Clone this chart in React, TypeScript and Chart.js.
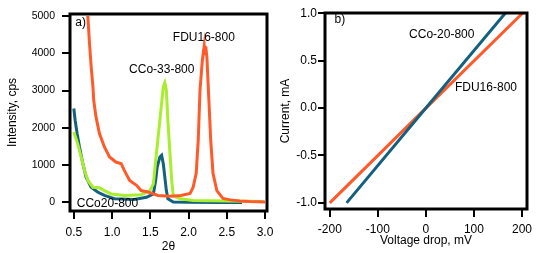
import React, { useEffect, useRef } from 'react';
import { Chart, registerables } from 'chart.js';
Chart.register(...registerables);

const FONT = 'Liberation Sans';
const ORANGE = '#FF5A2A';
const BLUE = '#14607F';
const GREEN = '#A9EE2C';

// ---------- panel a) : intensity vs 2θ ----------
const fduTheta = [0.683, 0.705, 0.727, 0.75, 0.76, 0.79, 0.835, 0.9, 0.967, 1.05, 1.09, 1.12, 1.16, 1.23, 1.32, 1.38, 1.47, 1.6, 1.75, 1.9, 2.02, 2.06, 2.1, 2.127, 2.15, 2.18, 2.205, 2.215, 2.225, 2.24, 2.26, 2.29, 2.32, 2.37, 2.45, 2.55, 2.67, 2.8, 3.0];
const fduInt = [5000, 4270, 3640, 3100, 2745, 2295, 1850, 1490, 1220, 1085, 1060, 1040, 860, 590, 460, 320, 280, 190, 170, 190, 240, 410, 780, 1670, 3010, 3800, 4200, 3950, 4180, 3900, 3010, 1670, 780, 320, 110, 70, 40, 25, 15];

const cco33Theta = [0.5, 0.55, 0.596, 0.64, 0.683, 0.75, 0.835, 0.9, 0.99, 1.16, 1.38, 1.495, 1.54, 1.58, 1.625, 1.67, 1.69, 1.71, 1.73, 1.757, 1.78, 1.8, 1.89, 2.06, 2.5, 2.98];
const cco33Int = [1890, 1580, 1220, 860, 590, 410, 395, 320, 230, 190, 210, 320, 500, 1310, 2200, 3100, 3210, 3010, 2200, 1310, 590, 190, 100, 55, 40, 30];

const cco20Theta = [0.5, 0.517, 0.543, 0.574, 0.618, 0.661, 0.727, 0.81, 0.9, 1.03, 1.29, 1.45, 1.54, 1.57, 1.59, 1.625, 1.648, 1.67, 1.69, 1.71, 1.73, 1.8, 2.0, 2.4, 2.7];
const cco20Int = [2520, 2205, 1850, 1490, 1040, 680, 410, 280, 190, 100, 80, 140, 230, 590, 950, 1220, 1265, 1040, 680, 320, 100, 10, 5, 0, 0];

const xTicksA = [0.5, 1.0, 1.5, 2.0, 2.5, 3.0];
const yTicksA = [0, 1000, 2000, 3000, 4000, 5000];

const labelTextA = ['a)', 'FDU16-800', 'CCo-33-800', 'CCo20-800'];
const labelXA = [0.59, 2.2, 1.65, 0.94];
const labelYA = [4815, 4420, 3550, -35];

// ---------- panel b) : current vs voltage drop ----------
const cco20V = [-165, 0, 165];
const cco20I = [-1.0, 0.0, 1.0];
const fduV = [-200, 0, 201];
const fduI = [-1.0, 0.0, 1.0];

const xTicksB = [-200, -100, 0, 100, 200];
const yTicksB = [-1.0, -0.5, 0.0, 0.5, 1.0];

const labelTextB = ['b)', 'CCo-20-800', 'FDU16-800'];
const labelXB = [-179, 33, 125];
const labelYB = [0.93, 0.77, 0.21];

const pts = (xs: number[], ys: number[]) => xs.map((x, i) => ({ x, y: ys[i] }));

function makeFrame(texts: string[], xs: number[], ys: number[]) {
  return {
    id: 'frame',
    afterDatasetsDraw(chart: any) {
      const { ctx, chartArea } = chart;
      const { left, top, right, bottom } = chartArea;
      ctx.save();
      ctx.strokeStyle = '#000';
      ctx.lineWidth = 3;
      ctx.strokeRect(left, top, right - left, bottom - top);
      ctx.fillStyle = '#000';
      ctx.font = `12px "${FONT}"`;
      ctx.textAlign = 'center';
      ctx.textBaseline = 'middle';
      texts.forEach((t, i) => {
        ctx.fillText(t, chart.scales.x.getPixelForValue(xs[i]), chart.scales.y.getPixelForValue(ys[i]));
      });
      ctx.restore();
    },
  };
}

const fixTicks = (vals: number[]) => (scale: any) => {
  scale.ticks = vals.map((v) => ({ value: v }));
};
const fixW = (w: number) => (scale: any) => {
  scale.width = w;
  scale.paddingTop = 0; scale.paddingBottom = 0; scale.paddingLeft = 0; scale.paddingRight = 0;
};
const fixH = (h: number) => (scale: any) => {
  scale.height = h;
  scale.paddingTop = 0; scale.paddingBottom = 0; scale.paddingLeft = 0; scale.paddingRight = 0;
};

function axis(opts: any) {
  return {
    type: 'linear',
    min: opts.min,
    max: opts.max,
    afterBuildTicks: fixTicks(opts.ticks),
    afterFit: opts.w ? fixW(opts.w) : fixH(opts.h),
    border: { display: false },
    grid: { drawOnChartArea: false, drawTicks: true, tickLength: opts.tl, tickWidth: 2, tickColor: '#000', lineWidth: 2, color: '#000' },
    ticks: {
      autoSkip: false,
      maxRotation: 0,
      padding: opts.pad,
      color: '#000',
      font: { family: FONT, size: opts.fs },
      callback: opts.fmt,
    },
    title: {
      display: true,
      text: opts.title,
      color: '#000',
      font: { family: FONT, size: 12 },
      padding: opts.tpad,
    },
  };
}

function lineDs(label: string, data: any[], color: string) {
  return { label, data, borderColor: color, backgroundColor: color, borderWidth: 3, pointRadius: 0, tension: 0, fill: false };
}

export default function App() {
  const refA = useRef<HTMLCanvasElement>(null);
  const refB = useRef<HTMLCanvasElement>(null);

  useEffect(() => {
    const chartA = new Chart(refA.current as HTMLCanvasElement, {
      type: 'line',
      data: {
        datasets: [
          lineDs('FDU16-800', pts(fduTheta, fduInt), ORANGE),
          lineDs('CCo-33-800', pts(cco33Theta, cco33Int), GREEN),
          lineDs('CCo20-800', pts(cco20Theta, cco20Int), BLUE),
        ],
      },
      options: {
        animation: false,
        responsive: false,
        layout: { padding: { top: 14, right: 23, left: 0, bottom: 0 } },
        plugins: { legend: { display: false }, tooltip: { enabled: false } },
        scales: {
          x: axis({ min: 0.45, max: 3.026, ticks: xTicksA, h: 42, tl: 8, pad: 6, fs: 12, title: '2θ', tpad: { top: 0, bottom: -1 }, fmt: (v: any) => Number(v).toFixed(1) }),
          y: axis({ min: -228, max: 5054, ticks: yTicksA, w: 70, tl: 8, pad: 7, fs: 10.5, title: 'Intensity, cps', tpad: { top: 5, bottom: 0 }, fmt: (v: any) => String(v) }),
        },
      } as any,
      plugins: [makeFrame(labelTextA, labelXA, labelYA)],
    });

    const chartB = new Chart(refB.current as HTMLCanvasElement, {
      type: 'line',
      data: {
        datasets: [
          lineDs('CCo-20-800', pts(cco20V, cco20I), BLUE),
          lineDs('FDU16-800', pts(fduV, fduI), ORANGE),
        ],
      },
      options: {
        animation: false,
        responsive: false,
        layout: { padding: { top: 13, right: 13, left: 0, bottom: 0 } },
        plugins: { legend: { display: false }, tooltip: { enabled: false } },
        scales: {
          x: axis({ min: -210, max: 210.4, ticks: xTicksB, h: 44, tl: 8, pad: 5, fs: 12, title: 'Voltage drop, mV', tpad: { top: 0, bottom: 5 }, fmt: (v: any) => String(v) }),
          y: axis({ min: -1.065, max: 1.003, ticks: yTicksB, w: 55, tl: 7, pad: 1, fs: 12, title: 'Current, mA', tpad: { top: 8, bottom: 0 }, fmt: (v: any) => Number(v).toFixed(1) }),
        },
      } as any,
      plugins: [makeFrame(labelTextB, labelXB, labelYB)],
    });

    return () => {
      chartA.destroy();
      chartB.destroy();
    };
  }, []);

  return (
    <div style={{ position: 'absolute', left: 0, top: 0, width: 540, height: 253, background: '#fff' }}>
      <canvas ref={refA} width={290} height={253} style={{ position: 'absolute', left: 0, top: 0, width: 290, height: 253 }} />
      <canvas ref={refB} width={270} height={253} style={{ position: 'absolute', left: 270, top: 0, width: 270, height: 253 }} />
    </div>
  );
}
